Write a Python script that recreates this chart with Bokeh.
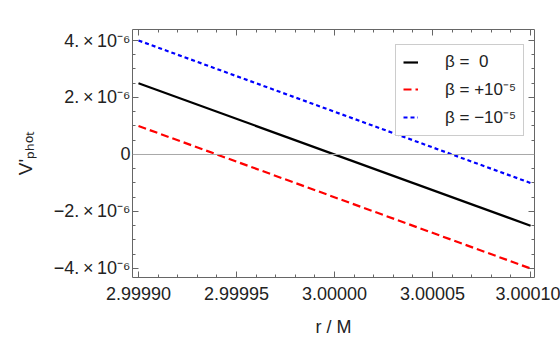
import numpy as np
from bokeh.plotting import figure
from bokeh.models import (LinearAxis, FixedTicker, CustomJSTickFormatter, PrintfTickFormatter,
                          Span, Legend, LegendItem, Range1d)
from bokeh.embed import file_html
from bokeh.resources import INLINE

# ---- data ----
r_values = [2.9999, 3.0001]
v_beta_zero = [2.5e-6, -2.5e-6]
v_beta_plus = [1.0e-6, -4.0e-6]
v_beta_minus = [4.0e-6, -1.0e-6]
series_labels = ["β =  0", "β = +10⁻⁵", "β = −10⁻⁵"]
x_tick_values = [2.9999, 2.99995, 3.0, 3.00005, 3.0001]
y_tick_values = [-4e-6, -2e-6, 0.0, 2e-6, 4e-6]
x_label = "r / M"
y_label = "V'ₚₕₒₜ"

FONT = "Liberation Sans"
FRAME = "#666666"

X0, X1 = 2.99989694, 3.000102
Y0, Y1 = -4.316e-6, 4.386e-6
W, H = 560, 351
BL, BR, BT, BB = 132, 26, 29, 74

p = figure(width=W, height=H, output_backend="svg", toolbar_location=None,
           x_range=Range1d(X0, X1), y_range=Range1d(Y0, Y1),
           x_axis_location=None, y_axis_location=None,
           min_border_left=BL, min_border_right=BR, min_border_top=BT, min_border_bottom=BB)
p.outline_line_color = None
p.xgrid.visible = False
p.ygrid.visible = False
p.background_fill_color = "white"
p.border_fill_color = "white"

x_minor = [round(v, 6) for v in np.arange(2.99989, 3.000105, 0.00001)]
y_minor = [round(v * 1e7) / 1e7 for v in np.arange(-4.5e-6, 4.6e-6, 0.5e-6)]

blank = CustomJSTickFormatter(code="return '';")

def style(ax, show_labels=True):
    ax.axis_line_color = FRAME
    ax.axis_line_width = 1
    ax.major_tick_line_color = FRAME
    ax.minor_tick_line_color = FRAME
    ax.major_tick_in = 6
    ax.major_tick_out = 0
    ax.minor_tick_in = 3
    ax.minor_tick_out = 0
    ax.major_label_text_font = FONT
    ax.major_label_text_color = "#222222"
    ax.major_label_text_font_size = "18px"
    if not show_labels:
        ax.major_label_standoff = 0

xt = lambda: FixedTicker(ticks=x_tick_values, minor_ticks=x_minor)
yt = lambda: FixedTicker(ticks=y_tick_values, minor_ticks=y_minor)

y_fmt = CustomJSTickFormatter(code="""
const m = Math.round(tick * 1e6);
if (m === 0) { return "0"; }
return (m < 0 ? "\u2212" : "") + Math.abs(m) + ".\u2009\u00d7\u200910\u207b\u2076";
""")

bottom = LinearAxis(ticker=xt(), formatter=PrintfTickFormatter(format="%.5f"))
style(bottom)
bottom.major_label_standoff = 9
bottom.axis_label = x_label
bottom.axis_label_text_font = FONT
bottom.axis_label_text_font_size = "18px"
bottom.axis_label_text_font_style = "normal"
bottom.axis_label_text_color = "#222222"
bottom.axis_label_standoff = 14
p.add_layout(bottom, "below")

left = LinearAxis(ticker=yt(), formatter=y_fmt)
style(left)
left.major_label_standoff = 2
left.axis_label = y_label
left.axis_label_text_font = FONT
left.axis_label_text_font_size = "19px"
left.axis_label_text_font_style = "normal"
left.axis_label_text_color = "#222222"
left.axis_label_standoff = 15
p.add_layout(left, "left")

top = LinearAxis(ticker=xt(), formatter=blank)
style(top, False)
p.add_layout(top, "above")

right = LinearAxis(ticker=yt(), formatter=blank)
style(right, False)
p.add_layout(right, "right")

p.add_layout(Span(location=0, dimension="width", line_color="#a8a8a8", line_width=1))

r0 = p.line(r_values, v_beta_zero, line_color="black", line_width=2.2)
r1 = p.line(r_values, v_beta_plus, line_color="#ff0000", line_width=2.2, line_dash="8 4")
r2 = p.line(r_values, v_beta_minus, line_color="#0000ff", line_width=2.2, line_dash="4 3")

legend = Legend(items=[LegendItem(label=series_labels[0], renderers=[r0]),
                       LegendItem(label=series_labels[1], renderers=[r1]),
                       LegendItem(label=series_labels[2], renderers=[r2])],
                location=(263, 141), glyph_width=15, glyph_height=20, label_height=20,
                spacing=5, padding=7, margin=0, label_standoff=27,
                label_text_font=FONT, label_text_font_size="17px", label_text_color="#222222",
                border_line_color="#999999", border_line_width=1,
                background_fill_color="white", background_fill_alpha=1)
p.add_layout(legend, "center")

open("out.html", "w").write(file_html(p, INLINE))
